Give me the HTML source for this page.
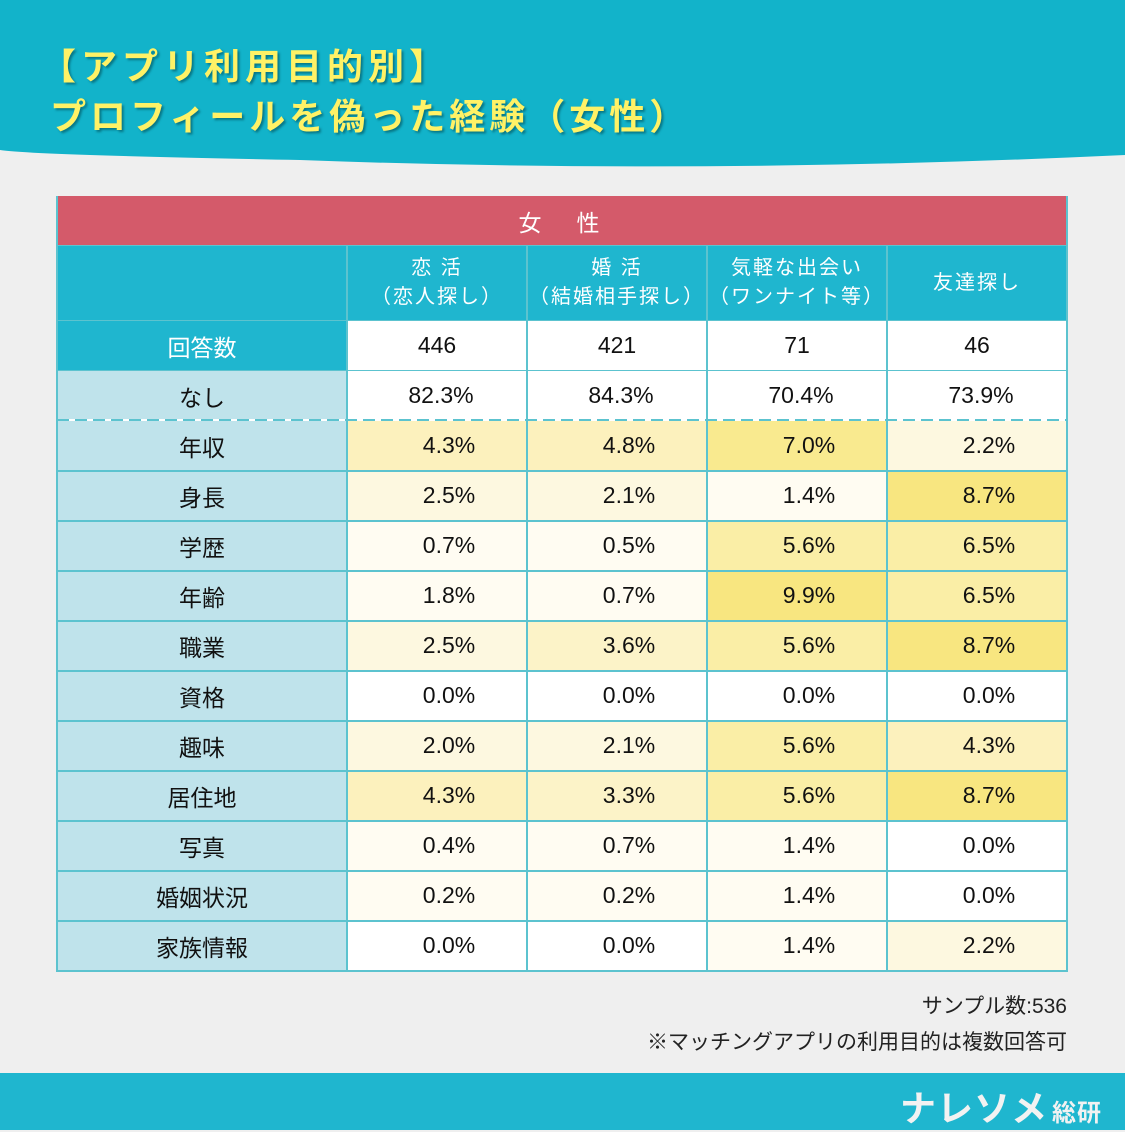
<!DOCTYPE html>
<html><head><meta charset="utf-8"><style>
*{margin:0;padding:0;box-sizing:border-box}
body{width:1125px;height:1130px;background:#efefef;position:relative;overflow:hidden;font-family:"Liberation Sans","Noto Sans CJK JP",sans-serif}
.t{position:absolute;color:#fff266;font-size:36px;font-weight:bold;letter-spacing:5px;text-shadow:2px 2px 2px rgba(0,80,90,.6);white-space:nowrap}
.c{position:absolute;display:flex;align-items:center;justify-content:center;text-align:center;font-size:23px;color:#111}
.g{position:absolute;background:#5cc3cf}
</style></head><body>
<svg style="position:absolute;left:0;top:0" width="1125" height="170"><path d="M0 0H1125V155Q700 175 300 160Q30 155 0 150Z" fill="#12b3ca"/></svg>
<div class="t" style="left:40px;top:38px">【アプリ利用目的別】</div>
<div class="t" style="left:50px;top:88px;letter-spacing:4px">プロフィールを偽った経験（女性）</div>
<div id="tb"></div>
<div style="position:absolute;right:58px;top:990px;font-size:21px;color:#222">サンプル数:536</div>
<div style="position:absolute;right:58px;top:1026px;font-size:21px;color:#222">※マッチングアプリの利用目的は複数回答可</div>
<div style="position:absolute;left:0;top:1073px;width:1125px;height:57px;background:#1fb6cf"></div>
<div style="position:absolute;left:900px;top:1080px;font-size:36px;font-weight:bold;color:#f2f2f2;letter-spacing:1px;white-space:nowrap">ナレソメ<span style="font-size:24px;letter-spacing:1px;margin-left:4px">総研</span></div>
<script>
var h='';
function c(x,y,w,hh,bg,txt,st){h+='<div class="c" style="left:'+x+'px;top:'+y+'px;width:'+w+'px;height:'+hh+'px;background:'+bg+';'+(st||'')+'">'+txt+'</div>';}
c(57,196,1010,49,'#d45a6a','女　性','color:#fff;letter-spacing:6px');
c(57,246,290,74,'#1fb6cf','');
var hd=['恋 活<br>（恋人探し）','婚 活<br>（結婚相手探し）','気軽な出会い<br>（ワンナイト等）','友達探し'];
for(var i=0;i<4;i++)c(347+180*i,246,180,74,'#1fb6cf',hd[i],'color:#fff;font-size:20px;line-height:29px;letter-spacing:2px');
c(57,321,290,49,'#1fb6cf','回答数','color:#fff');
var n=[446,421,71,46];for(i=0;i<4;i++)c(347+180*i,321,180,49,'#fff',n[i]);
var rows=[['なし',82.3,84.3,70.4,73.9],['年収',4.3,4.8,7.0,2.2],['身長',2.5,2.1,1.4,8.7],['学歴',0.7,0.5,5.6,6.5],['年齢',1.8,0.7,9.9,6.5],['職業',2.5,3.6,5.6,8.7],['資格',0,0,0,0],['趣味',2.0,2.1,5.6,4.3],['居住地',4.3,3.3,5.6,8.7],['写真',0.4,0.7,1.4,0],['婚姻状況',0.2,0.2,1.4,0],['家族情報',0,0,1.4,2.2]];
function col(v){if(v>=8)return'#f8e680';if(v>=6.8)return'#f9ea8f';if(v>=5)return'#faeea6';if(v>=4)return'#fcf1bd';if(v>=3)return'#fcf3c8';if(v>=2)return'#fdf8e0';if(v>0)return'#fffcf2';return'#fff';}
for(var r=0;r<rows.length;r++){var y=371+50*r;c(57,y,290,49,'#bfe3eb',rows[r][0]);
for(i=0;i<4;i++){var v=rows[r][i+1];c(347+180*i,y,180,49,r==0?'#fff':col(v),v.toFixed(1)+'%','padding-left:'+(r==0?8:24)+'px');}}
h+='<div class="g" style="left:57px;top:245px;width:1010px;height:1px"></div>';
h+='<div class="g" style="left:57px;top:320px;width:1010px;height:1px"></div>';
h+='<div class="g" style="left:57px;top:370px;width:1010px;height:1px"></div>';
h+='<div style="position:absolute;left:57px;top:419px;width:1010px;height:2px;background:repeating-linear-gradient(90deg,#5cc3cf 0 12px,#fff 12px 18px)"></div>';
for(r=1;r<=11;r++)h+='<div class="g" style="left:57px;top:'+(420+50*r)+'px;width:1010px;height:2px"></div>';
h+='<div class="g" style="left:56px;top:196px;width:2px;height:776px"></div>';
h+='<div class="g" style="left:1066px;top:196px;width:2px;height:776px"></div>';
for(i=0;i<4;i++)h+='<div class="g" style="left:'+(346+180*i)+'px;top:246px;width:2px;height:725px"></div>';
document.getElementById('tb').innerHTML=h;
</script>
</body></html>
